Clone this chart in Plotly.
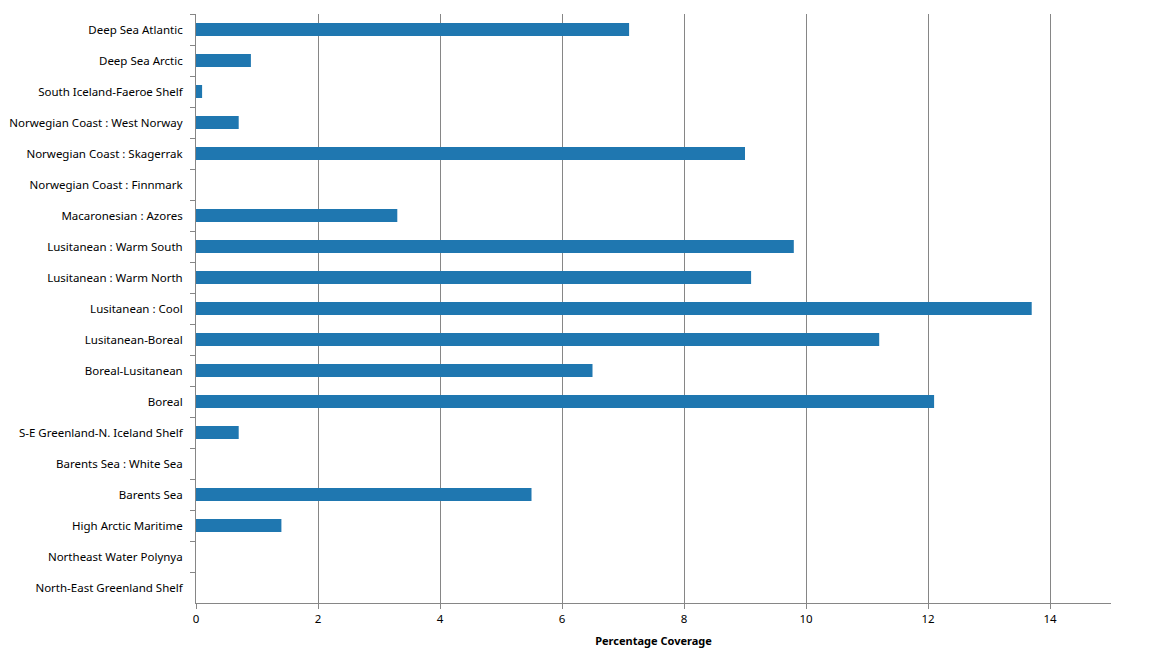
import plotly.graph_objects as go

categories = [
    "Deep Sea Atlantic", "Deep Sea Arctic", "South Iceland-Faeroe Shelf",
    "Norwegian Coast : West Norway", "Norwegian Coast : Skagerrak",
    "Norwegian Coast : Finnmark", "Macaronesian : Azores",
    "Lusitanean : Warm South", "Lusitanean : Warm North", "Lusitanean : Cool",
    "Lusitanean-Boreal", "Boreal-Lusitanean", "Boreal",
    "S-E Greenland-N. Iceland Shelf", "Barents Sea : White Sea", "Barents Sea",
    "High Arctic Maritime", "Northeast Water Polynya", "North-East Greenland Shelf",
]
coverage = [7.1, 0.9, 0.1, 0.7, 9.0, 0.0, 3.3, 9.8, 9.1, 13.7, 11.2, 6.5, 12.1,
            0.7, 0.0, 5.5, 1.4, 0.0, 0.0]
x_ticks = [0, 2, 4, 6, 8, 10, 12, 14]

fig = go.Figure(go.Bar(
    y=categories, x=coverage, orientation="h",
    marker=dict(color="#1F77B0", line=dict(width=0)),
))

axis_gray = "#868686"
fig.update_layout(
    width=1150, height=670,
    margin=dict(l=188, r=47, t=6, b=75, autoexpand=False),
    plot_bgcolor="white", paper_bgcolor="white",
    bargap=0.58,
    showlegend=False,
    font=dict(family="Noto Sans, DejaVu Sans, sans-serif", size=11.5, color="#000000"),
    xaxis=dict(
        range=[0, 15], tickvals=x_ticks, ticktext=[str(t) for t in x_ticks],
        showgrid=True, gridcolor=axis_gray, gridwidth=1,
        showline=True, linecolor=axis_gray, linewidth=1,
        ticks="outside", ticklen=5, tickcolor=axis_gray,
        zeroline=False, automargin=False,
        title=dict(text="<b>Percentage Coverage</b>", font=dict(size=11), standoff=12),
    ),
    yaxis=dict(
        categoryorder="array", categoryarray=categories, autorange="reversed",
        showgrid=False, showline=True, linecolor=axis_gray, linewidth=1,
        ticks="outside", ticklen=5, tickcolor=axis_gray, tickson="boundaries",
        zeroline=False, automargin=False, ticklabelstandoff=10,
    ),
)

fig.write_html("out.html")
